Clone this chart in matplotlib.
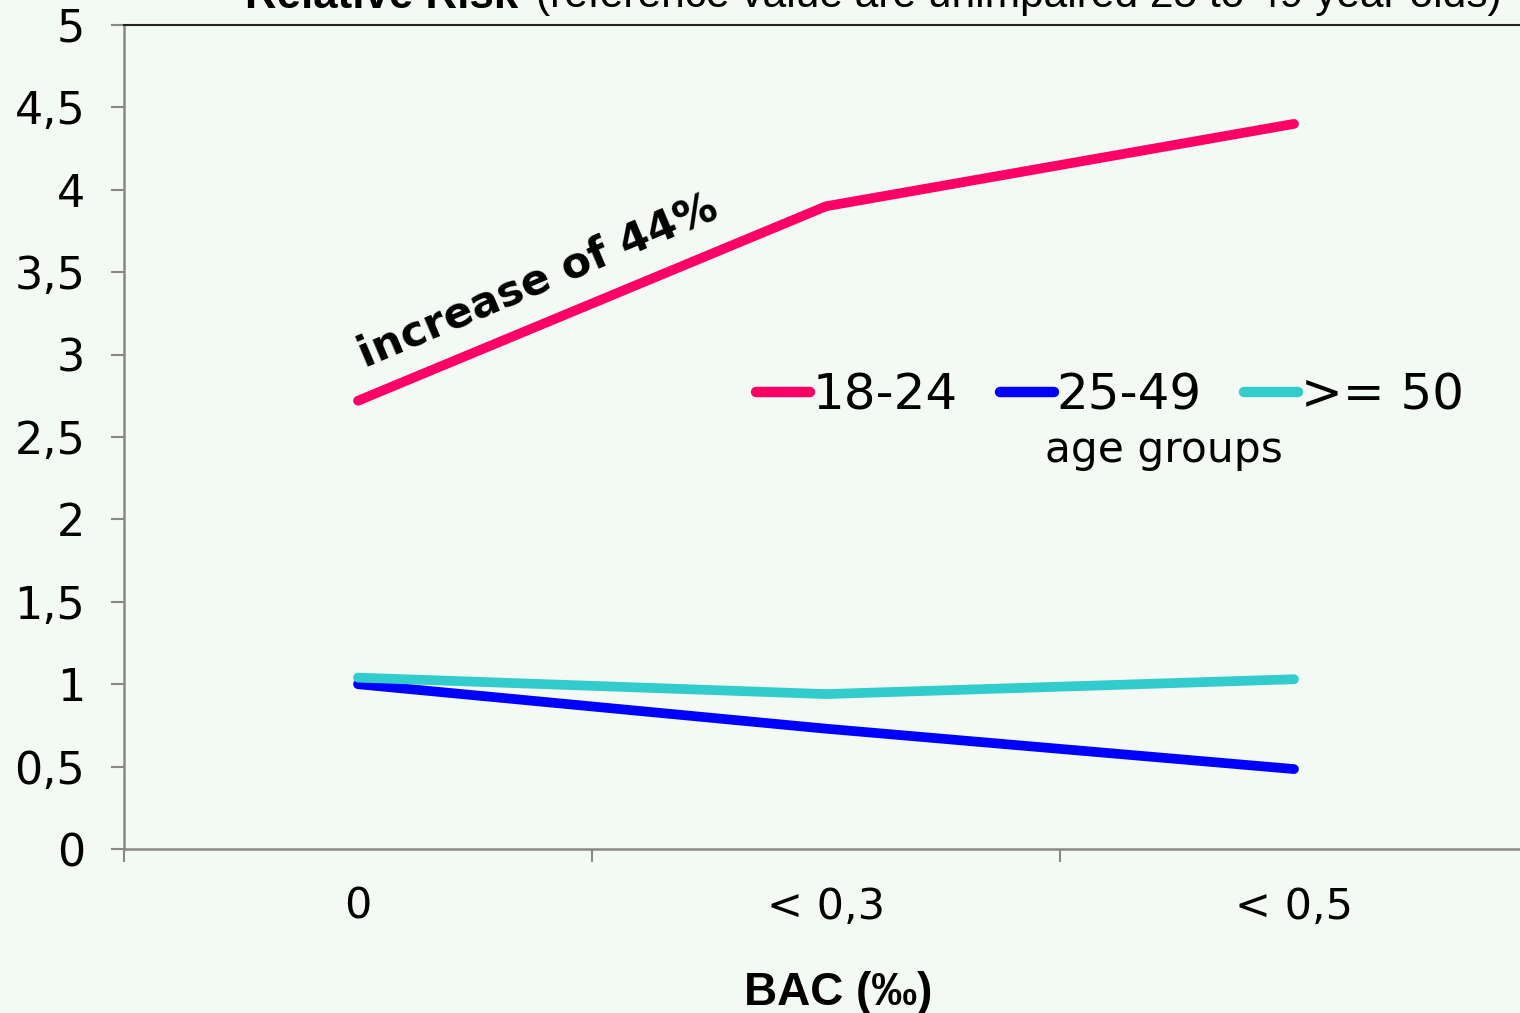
import matplotlib
matplotlib.use("Agg")
from matplotlib import pyplot as plt
from matplotlib.ticker import FixedLocator, FuncFormatter

bac = ["0", "< 0,3", "< 0,5"]
ages = ["18-24", "25-49", ">= 50"]
risk_18_24 = [2.72, 3.90, 4.40]
risk_25_49 = [1.00, 0.73, 0.485]
risk_50 = [1.04, 0.94, 1.03]
colors = ["#FF0066", "#0000FF", "#33CCCC"]

bg = "#F3F9F3"
arial = "Liberation Sans"

fig = plt.figure(figsize=(15.2, 10.13), dpi=100, facecolor=bg)
W, H = 1520, 1013
ax = fig.add_axes([124 / W, 1 - 849 / H, (1528 - 124) / W, (849 - 25) / H], facecolor=bg)

x = range(len(bac))
for vals, c, lab in zip([risk_18_24, risk_25_49, risk_50], colors, ages):
    ax.plot(x, vals, color=c, lw=7, label=lab, solid_capstyle="round")

ax.set_xlim(-0.5, 2.5)
ax.set_ylim(0, 5)
ax.set_yticks([i * 0.5 for i in range(11)])
ax.yaxis.set_major_formatter(FuncFormatter(lambda v, p: ("%g" % v).replace(".", ",")))
ax.set_xticks(list(x))
ax.set_xticklabels(bac)
ax.xaxis.set_minor_locator(FixedLocator([-0.5, 0.5, 1.5, 2.5]))

ax.tick_params(axis="y", labelsize=32, length=9.4, width=1.5, color="#888888", pad=18.5)
ax.tick_params(axis="x", which="major", labelsize=31, length=0, pad=26.5)
ax.tick_params(axis="x", which="minor", length=9.4, width=1.5, color="#888888")

ax.spines["left"].set_color("#888888")
ax.spines["left"].set_linewidth(1.8)
ax.spines["bottom"].set_color("#888888")
ax.spines["bottom"].set_linewidth(1.8)
ax.spines["top"].set_color("#222222")
ax.spines["top"].set_linewidth(1.5)
ax.spines["right"].set_visible(False)

# x axis title
fig.text(838 / W, 1 - 1005 / H, "BAC (‰)", fontsize=33, fontweight="bold",
         family=arial, ha="center", va="baseline")

ax.text(0.015, 2.92, "increase of 44%", fontsize=31, fontweight="bold",
        rotation=23, rotation_mode="anchor", ha="left", va="baseline")

leg = ax.legend(loc="center left", bbox_to_anchor=(756 / W, 1 - 396 / H),
                bbox_transform=fig.transFigure, ncol=3, frameon=False,
                borderpad=0, borderaxespad=0,
                handlelength=1.08, handletextpad=0.05, columnspacing=0.85,
                prop={"size": 36})
for line in leg.get_lines():
    line.set_linewidth(7.5)
    line.set_solid_capstyle("round")
fig.text(1164 / W, 1 - 450 / H, "age groups", ha="center", va="center", fontsize=30.5)

# chart title, cut off at the top edge as in the original
fig.text(518 / W, 1 - 7.5 / H, "Relative Risk", fontsize=31.6, fontweight="bold",
         family=arial, ha="right", va="baseline")
fig.text(1502 / W, 1 - 7.5 / H, "(reference value are unimpaired 25 to 49 year olds)",
         fontsize=30.6, family=arial, ha="right", va="baseline")

fig.savefig("out.png", dpi=100, facecolor=bg)
